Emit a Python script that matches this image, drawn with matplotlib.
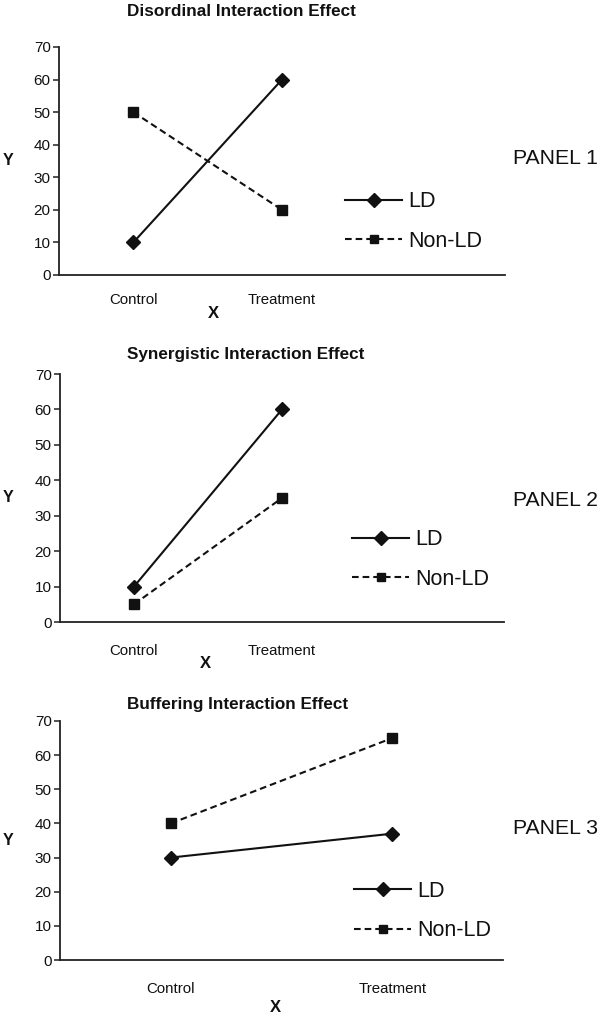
import matplotlib
matplotlib.use("Agg")
import matplotlib.pyplot as plt
from matplotlib.lines import Line2D

plt.rcParams['font.family'] = ['Liberation Sans', 'DejaVu Sans']

categories = ["Control", "Treatment"]
series_names = ["LD", "Non-LD"]
titles = ["Disordinal Interaction Effect", "Synergistic Interaction Effect", "Buffering Interaction Effect"]
panel_labels = ["PANEL 1", "PANEL 2", "PANEL 3"]
ld_values = [[10, 60], [10, 60], [30, 37]]
nonld_values = [[50, 20], [5, 35], [40, 65]]
yticks = [0, 10, 20, 30, 40, 50, 60, 70]

W, H = 604, 1018
DPI = 100
fig = plt.figure(figsize=(W / DPI, H / DPI), dpi=DPI)

def fx(px):
    return px / W

def fy(py):
    return 1 - py / H

# pixel layout per panel
boxes = [(59, 47, 505, 275), (60, 374, 504, 622), (60, 721, 503, 960)]
xlims = [(-0.5, 2.5), (-0.5, 2.5), (-0.5, 1.5)]
title_y = [12, 354, 704]
xtick_pad = [13, 16, 15.5]
xlabel_y = [314, 664, 1008]
xlabel_x = [213, 205, 275]
panel_label_y = [158, 500, 828]
legend_pos = [(345, 199, 239), (352, 537, 577), (354, 889, 928)]

dark = '#111111'
dash = (0, (3.2, 1.9))
LW = 1.5

for i in range(3):
    l, t, r, b = boxes[i]
    ax = fig.add_axes([fx(l), fy(b), fx(r - l), (b - t) / H])
    xs = list(range(len(categories)))
    ax.plot(xs, ld_values[i], color=dark, lw=LW, marker='D', ms=7.4,
            markerfacecolor=dark, markeredgecolor=dark, zorder=3)
    ax.plot(xs, nonld_values[i], color=dark, lw=LW, ls=dash, marker='s', ms=7.6,
            markerfacecolor=dark, markeredgecolor=dark, zorder=3)
    ax.set_xlim(*xlims[i])
    ax.set_ylim(0, 70)
    ax.set_yticks(yticks)
    ax.set_xticks(xs)
    ax.set_xticklabels(categories)
    for s in ['top', 'right']:
        ax.spines[s].set_visible(False)
    for s in ['left', 'bottom']:
        ax.spines[s].set_linewidth(1.3)
        ax.spines[s].set_color('#222222')
    ax.tick_params(axis='y', length=4.5, width=1.1, color='#222222', pad=1.5,
                   labelsize=11, labelcolor=dark)
    ax.tick_params(axis='x', length=0, pad=xtick_pad[i], labelsize=10.8, labelcolor=dark)
    ax.patch.set_alpha(0)

    # axis labels
    ax.set_ylabel("Y", rotation=0, fontsize=11.5, fontweight='bold', color=dark,
                  ha='center', va='center')
    ax.yaxis.set_label_coords((8 - l) / (r - l), 0.5)
    fig.text(fx(xlabel_x[i]), fy(xlabel_y[i]), "X", fontsize=12, fontweight='bold',
             color=dark, ha='center', va='center')

    # title
    fig.text(fx(127), fy(title_y[i]), titles[i], fontsize=12.3, fontweight='bold',
             color=dark, ha='left', va='center')
    # panel label
    fig.text(fx(513), fy(panel_label_y[i]), panel_labels[i], fontsize=15.3,
             color=dark, ha='left', va='center')

    # legend
    lx, ly1, ly2 = legend_pos[i]
    handles = [
        Line2D([0], [0], color=dark, lw=LW, marker='D', ms=7.0,
               markerfacecolor=dark, markeredgecolor=dark),
        Line2D([0], [0], color=dark, lw=LW, ls=dash, marker='s', ms=6.0,
               markerfacecolor=dark, markeredgecolor=dark),
    ]
    leg = ax.legend(handles, series_names, frameon=False, loc='center left',
                    bbox_to_anchor=(fx(lx), fy((ly1 + ly2) / 2 + 2.5)), bbox_transform=fig.transFigure,
                    fontsize=15.5, handlelength=2.65, handletextpad=0.28,
                    labelspacing=0.86, borderaxespad=0, borderpad=0)
    for txt in leg.get_texts():
        txt.set_color(dark)

fig.savefig("out.png", dpi=DPI)
